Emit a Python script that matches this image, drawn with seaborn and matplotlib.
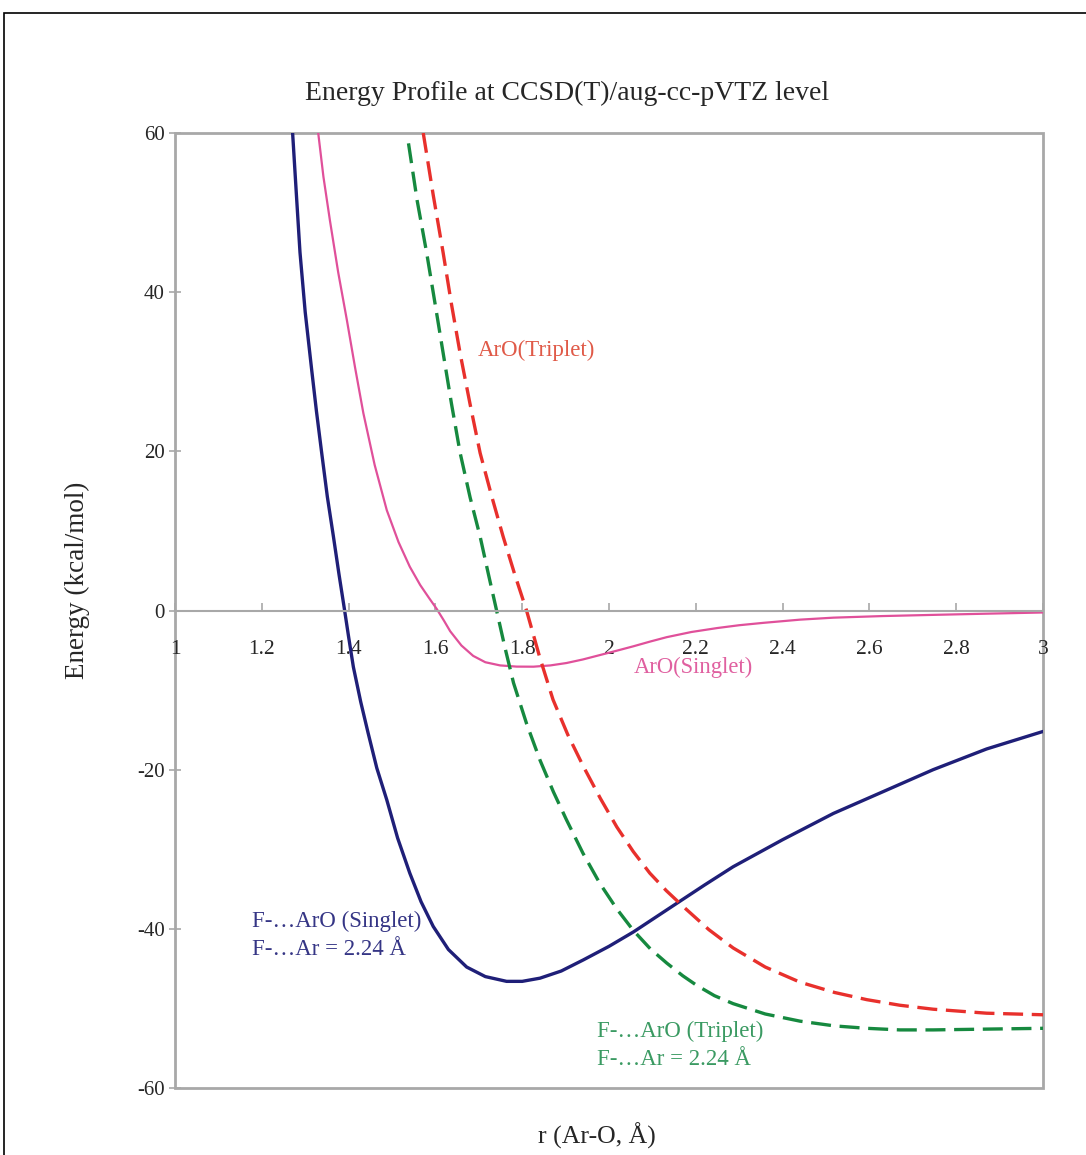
import matplotlib
matplotlib.use("Agg")
import matplotlib.pyplot as plt
import seaborn as sns
import pandas as pd
from matplotlib.patches import Rectangle

# ---------------- data ----------------
r_fsing = [1.271, 1.280, 1.288, 1.300, 1.315, 1.326, 1.338, 1.351, 1.365, 1.378, 1.390, 1.400,
           1.411, 1.428, 1.445, 1.465, 1.488, 1.513, 1.541, 1.567, 1.595, 1.630, 1.672, 1.715,
           1.764, 1.800, 1.841, 1.890, 1.941, 2.000, 2.056, 2.156, 2.220, 2.286, 2.400, 2.517,
           2.630, 2.747, 2.870, 3.000]
e_fsing = [60, 52, 45, 37.5, 30.2, 25, 19.8, 14.3, 9.3, 4.5, 0.3, -3.3,
           -7.1, -11.5, -15.4, -19.8, -23.8, -28.6, -33.0, -36.6, -39.7, -42.6, -44.8, -46.0,
           -46.6, -46.6, -46.2, -45.3, -43.9, -42.2, -40.4, -36.8, -34.5, -32.2, -28.8, -25.5,
           -22.8, -20.0, -17.4, -15.2]

r_asing = [1.330, 1.342, 1.357, 1.376, 1.396, 1.415, 1.434, 1.460, 1.488, 1.515, 1.541, 1.565,
           1.585, 1.603, 1.620, 1.634, 1.660, 1.687, 1.715, 1.749, 1.787, 1.826, 1.865, 1.902,
           1.940, 1.979, 2.018, 2.056, 2.095, 2.133, 2.190, 2.250, 2.300, 2.356, 2.440, 2.517,
           2.630, 2.747, 2.870, 3.000]
e_asing = [60, 54.5, 49, 42.5, 36.5, 30.5, 24.8, 18.3, 12.6, 8.6, 5.5, 3.2,
           1.6, 0.2, -1.3, -2.6, -4.4, -5.7, -6.5, -6.9, -7.05, -7.06, -6.9, -6.6,
           -6.15, -5.6, -5.05, -4.5, -3.9, -3.35, -2.7, -2.2, -1.85, -1.55, -1.15, -0.9,
           -0.7, -0.55, -0.4, -0.25]

r_ftrip = [1.538, 1.558, 1.580, 1.600, 1.618, 1.637, 1.657, 1.680, 1.703, 1.722, 1.741, 1.760,
           1.780, 1.810, 1.841, 1.872, 1.902, 1.940, 1.979, 2.018, 2.056, 2.095, 2.133, 2.170,
           2.202, 2.243, 2.286, 2.360, 2.440, 2.520, 2.594, 2.670, 2.747, 2.870, 3.000]
e_ftrip = [58.7, 51.5, 44.9, 38.3, 32.3, 26, 19.8, 14.2, 9.3, 4.6, 0.0, -4.6,
           -9.1, -14.2, -18.8, -22.8, -26.3, -30.5, -34.3, -37.5, -40.2, -42.5, -44.3, -45.9,
           -47.1, -48.4, -49.4, -50.7, -51.6, -52.2, -52.5, -52.7, -52.7, -52.6, -52.5]

r_atrip = [1.572, 1.595, 1.618, 1.637, 1.657, 1.680, 1.703, 1.730, 1.756, 1.783, 1.810, 1.840,
           1.871, 1.905, 1.941, 1.980, 2.018, 2.056, 2.094, 2.132, 2.171, 2.230, 2.286, 2.360,
           2.440, 2.520, 2.594, 2.670, 2.747, 2.870, 3.000]
e_atrip = [60, 52.2, 44.9, 38.5, 32.3, 25.9, 19.8, 14.3, 9.3, 4.5, 0.0, -5.8,
           -11.2, -15.6, -19.6, -23.6, -27.2, -30.3, -33.0, -35.2, -37.2, -40.1, -42.4, -44.8,
           -46.7, -48.0, -48.9, -49.6, -50.1, -50.6, -50.8]

x_ticks = [1, 1.2, 1.4, 1.6, 1.8, 2, 2.2, 2.4, 2.6, 2.8, 3]
x_tick_labels = ["1", "1.2", "1.4", "1.6", "1.8", "2", "2.2", "2.4", "2.6", "2.8", "3"]
y_ticks = [-60, -40, -20, 0, 20, 40, 60]

title = "Energy Profile at CCSD(T)/aug-cc-pVTZ level"
xlabel = "r (Ar-O, Å)"
ylabel = "Energy (kcal/mol)"

# ---------------- style ----------------
sns.set_theme(style="white")
plt.rcParams["font.family"] = ["Liberation Serif", "DejaVu Serif"]
plt.rcParams["axes.unicode_minus"] = False

NAVY = "#1f1f78"
PINK = "#e0509a"
RED = "#e8302c"
GREEN = "#16893f"
GRAY = "#a8a8a8"

fig = plt.figure(figsize=(10.86, 11.55), dpi=100)
ax = fig.add_axes([175 / 1086, 67 / 1155, 868 / 1086, 955 / 1155])

series = [
    (r_fsing, e_fsing, NAVY, 2.4, None),
    (r_asing, e_asing, PINK, 1.6, None),
    (r_ftrip, e_ftrip, GREEN, 2.4, (6, 2.6)),
    (r_atrip, e_atrip, RED, 2.4, (6, 2.6)),
]
for rr, ee, col, lw, dash in series:
    df = pd.DataFrame({"r": rr, "E": ee})
    sns.lineplot(data=df, x="r", y="E", ax=ax, color=col, lw=lw, legend=False)
    ln = ax.lines[-1]
    ln.set_solid_joinstyle("round")
    if dash is not None:
        ln.set_dashes(dash)

ax.set_xlim(1, 3)
ax.set_ylim(-60, 60)

# spines: bottom spine moved to y=0, full frame drawn as a rectangle
for s in ["top", "right", "left"]:
    ax.spines[s].set_visible(False)
ax.spines["bottom"].set_position(("data", 0))
ax.spines["bottom"].set_color(GRAY)
ax.spines["bottom"].set_linewidth(1.5)
ax.add_patch(Rectangle((0, 0), 1, 1, transform=ax.transAxes, fill=False,
                       edgecolor=GRAY, lw=2.0, clip_on=False, zorder=0.5))

ax.set_xticks(x_ticks)
ax.set_xticklabels(x_tick_labels)
ax.set_yticks(y_ticks)
ax.tick_params(axis="x", direction="in", length=6, width=1.2, color=GRAY,
               labelsize=15.5, pad=21, bottom=True)
ax.tick_params(axis="y", direction="inout", length=9, width=1.2, color=GRAY,
               labelsize=15, pad=3, left=True)

ax.set_xlabel(xlabel, fontsize=18.5)
ax.set_ylabel(ylabel, fontsize=19.5)
ax.xaxis.set_label_coords(0.486, -0.036)
ax.yaxis.set_label_coords(-0.098, 0.532)

fig.text(567 / 1086, 1 - 93 / 1155, title, ha="center", va="center", fontsize=20)

# annotations
ax.text(1.698, 32.7, "ArO(Triplet)", color="#e05a48", fontsize=16.5, ha="left", va="center")
ax.text(2.058, -7.2, "ArO(Singlet)", color="#e060a0", fontsize=16.3, ha="left", va="center")
ax.text(1.177, -40.8, "F-…ArO (Singlet)\nF-…Ar = 2.24 Å", color="#353585", fontsize=16.5,
        ha="left", va="center", linespacing=1.45)
ax.text(1.972, -54.6, "F-…ArO (Triplet)\nF-…Ar = 2.24 Å", color="#3a9a62", fontsize=16.5,
        ha="left", va="center", linespacing=1.45)

# outer black frame (left and top edges visible)
fig.patches.append(Rectangle((4 / 1086, -0.05), 1.2, 1 - 13 / 1155 + 0.05,
                             transform=fig.transFigure, fill=False,
                             edgecolor="black", lw=1.2))

fig.savefig("out.png", dpi=100)
